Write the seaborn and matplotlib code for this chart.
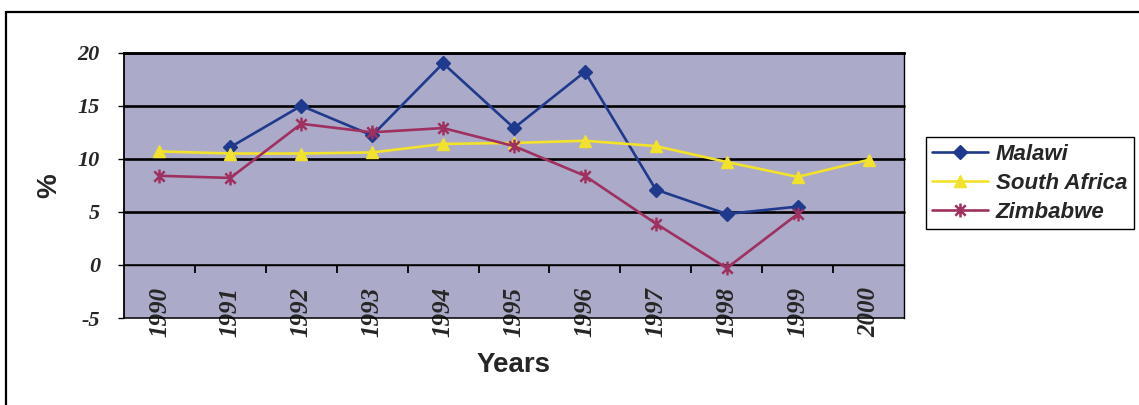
import numpy as np
import matplotlib
matplotlib.use("Agg")
import matplotlib.pyplot as plt
from matplotlib.patches import Rectangle
from matplotlib.path import Path
from matplotlib.ticker import FixedLocator
from matplotlib.font_manager import FontProperties
import seaborn as sns

# Annual rates (%) by country
years = [1990, 1991, 1992, 1993, 1994, 1995, 1996, 1997, 1998, 1999, 2000]
malawi = [np.nan, 11.1, 15.0, 12.2, 19.0, 12.9, 18.2, 7.1, 4.8, 5.5, np.nan]
south_africa = [10.7, 10.5, 10.5, 10.6, 11.4, 11.5, 11.7, 11.2, 9.7, 8.3, 9.9]
zimbabwe = [8.4, 8.2, 13.3, 12.5, 12.9, 11.2, 8.4, 3.9, -0.3, 4.8, np.nan]

series_names = ["Malawi", "South Africa", "Zimbabwe"]
series_values = [malawi, south_africa, zimbabwe]
y_ticks = [-5, 0, 5, 10, 15, 20]

sns.set_theme(style="white")
plt.rcParams["font.family"] = ["Liberation Sans", "DejaVu Sans"]
plt.rcParams["axes.unicode_minus"] = False

# asterisk marker: a vertical stroke crossed by an X
star_path = Path(
    [(0, -1), (0, 1), (-0.75, -0.75), (0.75, 0.75), (-0.75, 0.75), (0.75, -0.75)],
    [Path.MOVETO, Path.LINETO, Path.MOVETO, Path.LINETO, Path.MOVETO, Path.LINETO],
)

colors = {"Malawi": "#1f3a8c", "South Africa": "#f2e22c", "Zimbabwe": "#9e3160"}
markers = {"Malawi": "D", "South Africa": "^", "Zimbabwe": star_path}
msizes = {"Malawi": 7, "South Africa": 9, "Zimbabwe": 10}
mews = {"Malawi": 1.0, "South Africa": 1.0, "Zimbabwe": 1.8}

fig = plt.figure(figsize=(11.39, 4.05), dpi=100)
fig.patch.set_facecolor("white")
ax = fig.add_axes([124 / 1139, 1 - 318 / 405, (904 - 124) / 1139, (318 - 52.7) / 405])
ax.set_facecolor("#abaac8")

for name, vals in zip(series_names, series_values):
    c = colors[name]
    sns.lineplot(x=years, y=vals, ax=ax, color=c, lw=1.9, marker=markers[name],
                 markersize=msizes[name], markeredgecolor=c, markerfacecolor=c,
                 markeredgewidth=mews[name], label=name, zorder=3)

ax.set_xlim(years[0] - 0.5, years[-1] + 0.5)
ax.set_ylim(y_ticks[0], y_ticks[-1])

# category axis crosses the value axis at zero
ax.spines["bottom"].set_position(("data", 0))
ax.spines["bottom"].set_linewidth(1.0)
ax.spines["bottom"].set_color("black")
ax.spines["left"].set_linewidth(1.3)
ax.spines["left"].set_color("black")
ax.spines["right"].set_linewidth(1.0)
ax.spines["right"].set_color("black")
ax.spines["top"].set_linewidth(1.9)
ax.spines["top"].set_color("black")

ax.xaxis.set_major_locator(FixedLocator(years))
ax.xaxis.set_minor_locator(FixedLocator([y + 0.5 for y in years[:-1]]))
ax.set_xticklabels([str(y) for y in years])
ax.tick_params(axis="x", which="major", length=0, pad=16)
ax.tick_params(axis="x", which="minor", bottom=True, length=5.5, width=1.3, color="black", direction="out")

ax.yaxis.set_major_locator(FixedLocator(y_ticks))
ax.tick_params(axis="y", which="major", left=True, length=4.3, width=1.0, color="black",
               direction="out", pad=13)

tick_font = FontProperties(family="Liberation Serif", weight="bold", style="italic", size=18)
for lab in ax.get_xticklabels():
    lab.set_fontproperties(tick_font)
    lab.set_rotation(90)
ytick_font = FontProperties(family="Liberation Serif", weight="bold", style="italic", size=16)
for lab in ax.get_yticklabels():
    lab.set_fontproperties(ytick_font)

# horizontal gridlines: heavy at 5..20, thin at the bottom edge
ax.grid(axis="y", color="black", linewidth=1.9)
ax.grid(axis="x", visible=False)
for val, gl in zip(y_ticks, ax.yaxis.get_gridlines()):
    if val <= 0:
        gl.set_linewidth(1.1)
    gl.set_clip_on(False)
ax.set_axisbelow(True)

label_font = FontProperties(family="Liberation Sans", weight="bold", size=20)
ax.set_xlabel("Years", fontproperties=label_font)
ax.xaxis.set_label_coords(0.5, -(365 - 318) / 265.3)
ax.xaxis.label.set_va("center")
ax.set_ylabel("%", fontproperties=label_font)
ax.yaxis.set_label_coords((49 - 124) / 780, 0.5)
ax.yaxis.label.set_va("center")

leg = ax.legend(loc="upper left", bbox_to_anchor=(925.7 / 1139, 1 - 137.3 / 405),
                bbox_transform=fig.transFigure, frameon=True, fancybox=False,
                edgecolor="black", framealpha=1, facecolor="white", borderpad=0.3,
                handlelength=2.5, handletextpad=0.35, labelspacing=0.35, borderaxespad=0,
                prop=FontProperties(family="Liberation Sans", weight="bold", style="italic", size=16))
leg.get_frame().set_linewidth(1.0)
for h in leg.legend_handles:
    h.set_linewidth(1.9)

# outer chart frame
fig.add_artist(Rectangle((6 / 1139, -0.05), 1.1, (405 - 12) / 405 + 0.05,
                         transform=fig.transFigure, fill=False, edgecolor="black", linewidth=1.6))

fig.savefig("out.png", dpi=100)
